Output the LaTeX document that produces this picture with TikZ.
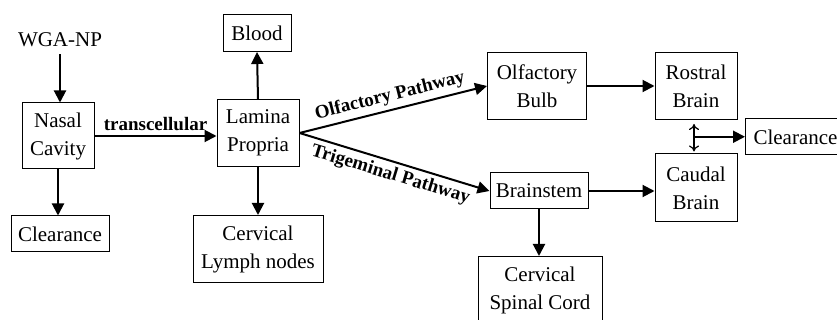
\documentclass[tikz,border=0pt]{standalone}
\usepackage{fontspec}
\setmainfont{Liberation Serif}
\usetikzlibrary{arrows,arrows.meta}
\usetikzlibrary{calc}

\tikzset{
    box/.style={draw, line width=0.5pt, align=center, inner sep=0pt, font=\fontsize{10.5}{14}\selectfont},
    pfeil/.style={line width=1pt, -{Triangle[length=6pt,width=6pt]}},
    doppelpfeil/.style={line width=0.6pt, {To[length=3pt,width=5pt]}-{To[length=3pt,width=5pt]}},
    weglabel/.style={font=\fontsize{9.5}{11}\selectfont\bfseries, inner sep=2pt},
}

\begin{document}
\begin{tikzpicture}[x=0.5pt,y=-0.5pt]

    \useasboundingbox (0,0) rectangle (837,320);

    \node[font=\fontsize{10.5}{14}\selectfont] (wga) at (60,40) {WGA-NP};
    \node[box, minimum width=36pt, minimum height=33pt] (nasal) at (58,136) {Nasal\\Cavity};
    \node[box, minimum width=49pt, minimum height=18pt] (clearL) at (60,234) {Clearance};

    \node[box, minimum width=41pt, minimum height=33.5pt] (lamina) at (258,133) {Lamina\\Propria};
    \node[box, minimum width=34pt, minimum height=18.5pt] (blood) at (257,33) {Blood};
    \node[box, minimum width=65pt, minimum height=33.5pt] (lymph) at (258,249) {Cervical\\Lymph nodes};

    \node[box, minimum width=49.5pt, minimum height=33.5pt] (olf) at (537,86) {Olfactory\\Bulb};
    \node[box, minimum width=49pt, minimum height=18pt] (stem) at (539,191) {Brainstem};
    \node[box, minimum width=62pt, minimum height=33.5pt] (spinal) at (540,290) {Cervical\\Spinal Cord};

    \node[box, minimum width=41pt, minimum height=33.5pt] (rostral) at (696,86) {Rostral\\Brain};
    \node[box, minimum width=41pt, minimum height=34pt] (caudal) at (696,188) {Caudal\\Brain};
    \node[box, minimum width=50pt, minimum height=18pt] (clearR) at (795.5,137) {Clearance};

    % linke Seite
    \draw[pfeil] (wga) -- (wga |- nasal.north);
    \draw[pfeil] (nasal.south) -- (nasal.south |- clearL.north);
    \draw[pfeil] (nasal.east) -- node[weglabel, above] {transcellular} (nasal.east -| lamina.west);

    \draw[pfeil] (lamina.north) -- (blood.south);
    \draw[pfeil] (lamina.south) -- (lymph.north);

    % Pfade
    \draw[pfeil] (lamina.east) -- node[weglabel, sloped, above] {Olfactory Pathway} (olf.west);
    \draw[pfeil] (lamina.east) -- node[weglabel, sloped, below] {Trigeminal Pathway} (stem.west);

    \draw[pfeil] (olf.east) -- (olf.east -| rostral.west);
    \draw[pfeil] (stem.east) -- (stem.east -| caudal.west);
    \draw[pfeil] (stem.south) -- (stem.south |- spinal.north);

    \draw[doppelpfeil, shorten <=2pt, shorten >=1pt] ([xshift=-1pt]rostral.south) -- ([xshift=-1pt]caudal.north);
    \coordinate (mitte) at ($(rostral.south)!0.5!(caudal.north)+(-2,0)$);
    \draw[pfeil] (mitte) -- (mitte -| clearR.west);

\end{tikzpicture}
\end{document}
